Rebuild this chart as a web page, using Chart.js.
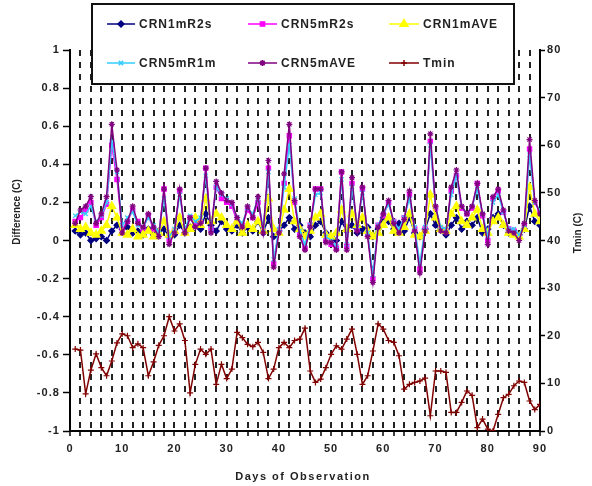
<!DOCTYPE html>
<html>
<head>
<meta charset="utf-8">
<script src="https://cdn.jsdelivr.net/npm/chart.js@4.4.1/dist/chart.umd.min.js"></script>
<style>
  html, body { margin: 0; padding: 0; background: #fff; }
  #wrap { width: 592px; height: 486px; }
</style>
</head>
<body>
<div id="wrap"><canvas id="grafica"></canvas></div>
<script>
const dias = [1,2,3,4,5,6,7,8,9,10,11,12,13,14,15,16,17,18,19,20,21,22,23,24,25,26,27,28,29,30,
  31,32,33,34,35,36,37,38,39,40,41,42,43,44,45,46,47,48,49,50,51,52,53,54,55,56,57,58,59,60,
  61,62,63,64,65,66,67,68,69,70,71,72,73,74,75,76,77,78,79,80,81,82,83,84,85,86,87,88,89,90];

const crn1mR2s = [0.05,0.03,0.04,0.00,0.01,0.02,0.00,0.05,0.08,0.06,0.07,0.04,0.05,0.03,0.06,0.03,0.05,0.06,0.02,0.03,
  0.08,0.04,0.07,0.10,0.06,0.14,0.08,0.05,0.10,0.06,0.05,0.08,0.04,0.07,0.05,0.10,0.04,0.12,0.02,0.05,
  0.08,0.12,0.06,0.08,0.04,0.02,0.08,0.10,0.04,0.02,0.00,0.10,0.05,0.08,0.04,0.06,0.07,0.02,0.06,0.12,
  0.10,0.06,0.09,0.05,0.12,0.04,0.02,0.06,0.14,0.08,0.06,0.03,0.08,0.12,0.06,0.10,0.08,0.12,0.04,0.06,
  0.12,0.14,0.08,0.04,0.05,0.03,0.06,0.18,0.10,0.08];

const crn5mR2s = [0.10,0.12,0.16,0.20,0.08,0.12,0.19,0.50,0.32,0.06,0.10,0.16,0.10,0.06,0.13,0.06,0.03,0.27,0.00,0.05,
  0.26,0.05,0.12,0.08,0.10,0.38,0.06,0.28,0.22,0.20,0.18,0.10,0.08,0.16,0.12,0.20,0.05,0.38,-0.12,0.05,
  0.30,0.55,0.20,0.03,-0.04,0.08,0.27,0.27,0.00,-0.02,-0.04,0.36,-0.03,0.30,0.06,0.27,0.03,-0.20,0.08,0.13,
  0.20,0.10,0.05,0.12,0.24,0.06,-0.15,0.06,0.52,0.17,0.06,0.05,0.26,0.34,0.17,0.14,0.17,0.30,0.13,0.00,
  0.22,0.26,0.15,0.06,0.05,0.02,0.08,0.48,0.20,0.15];

const crn1mAve = [0.08,0.06,0.07,0.04,0.03,0.05,0.08,0.18,0.12,0.04,0.03,0.06,0.02,0.03,0.05,0.02,0.04,0.10,0.03,0.05,
  0.12,0.04,0.06,0.12,0.08,0.22,0.10,0.14,0.12,0.08,0.06,0.10,0.04,0.08,0.06,0.10,0.05,0.22,0.06,0.04,
  0.16,0.27,0.10,0.06,0.02,0.05,0.12,0.14,0.03,0.02,0.04,0.16,0.06,0.14,0.08,0.12,0.05,0.02,0.04,0.08,
  0.12,0.05,0.04,0.07,0.14,0.03,0.02,0.05,0.24,0.12,0.06,0.05,0.14,0.18,0.10,0.08,0.12,0.16,0.06,0.04,
  0.10,0.12,0.08,0.04,0.03,0.02,0.06,0.28,0.14,0.10];

const crn5mR1m = [0.13,0.15,0.14,0.18,0.10,0.13,0.20,0.52,0.36,0.08,0.12,0.15,0.08,0.07,0.12,0.08,0.04,0.22,0.02,0.06,
  0.24,0.06,0.13,0.10,0.12,0.34,0.06,0.28,0.24,0.22,0.19,0.12,0.09,0.17,0.14,0.22,0.06,0.36,-0.10,0.06,
  0.28,0.50,0.22,0.05,-0.02,0.08,0.24,0.25,0.02,0.00,-0.03,0.32,-0.02,0.28,0.07,0.25,0.04,-0.18,0.08,0.14,
  0.19,0.10,0.06,0.12,0.22,0.07,-0.12,0.07,0.50,0.18,0.07,0.06,0.24,0.34,0.18,0.14,0.18,0.27,0.14,0.02,
  0.20,0.24,0.15,0.06,0.06,0.03,0.08,0.45,0.20,0.16];

const crn5mAve = [0.09,0.16,0.18,0.23,0.09,0.14,0.23,0.61,0.37,0.04,0.10,0.18,0.09,0.07,0.14,0.07,0.02,0.27,-0.02,0.04,
  0.27,0.04,0.12,0.07,0.09,0.38,0.04,0.31,0.25,0.21,0.20,0.12,0.07,0.18,0.12,0.23,0.04,0.42,-0.14,0.04,
  0.35,0.61,0.21,0.02,-0.05,0.07,0.27,0.27,-0.01,-0.01,-0.05,0.36,-0.05,0.33,0.05,0.28,0.02,-0.22,0.07,0.14,
  0.21,0.09,0.04,0.11,0.26,0.05,-0.17,0.05,0.56,0.18,0.05,0.04,0.28,0.37,0.18,0.14,0.18,0.30,0.14,-0.02,
  0.23,0.27,0.16,0.05,0.04,0.00,0.09,0.53,0.21,0.14];

const tmin = [17.2,17.0,7.8,12.8,16.2,13.3,11.6,14.7,18.5,20.4,20.0,17.5,18.3,17.5,11.6,14.5,18.0,20.0,24.0,21.0,
  22.5,19.0,8.0,14.0,17.2,16.1,17.2,9.8,14.0,11.0,13.0,20.7,19.6,18.2,17.7,18.6,16.5,11.0,13.0,17.5,
  18.6,17.5,19.0,19.3,21.6,12.6,10.2,10.9,13.3,16.1,17.9,17.2,19.3,21.4,16.1,9.8,11.6,16.8,22.5,21.4,
  19.0,18.6,15.8,8.8,9.8,10.2,10.5,11.1,3.2,12.6,12.6,12.3,3.9,3.9,6.0,8.4,7.5,0.7,2.5,0.4,
  0.0,3.5,7.0,7.7,9.5,10.5,10.2,6.3,4.5,5.6];

const ticksDias = [0,10,20,30,40,50,60,70,80,90];
const ticksDif = [-1,-0.8,-0.6,-0.4,-0.2,0,0.2,0.4,0.6,0.8,1];
const ticksTmin = [0,10,20,30,40,50,60,70,80];

const series = [
  { label: 'CRN1mR2s', valores: crn1mR2s, color: '#000080', punto: 'rectRot', radio: 3, eje: 'y' },
  { label: 'CRN5mR2s', valores: crn5mR2s, color: '#ff00ff', punto: 'rect', radio: 3, eje: 'y' },
  { label: 'CRN1mAVE', valores: crn1mAve, color: '#ffff00', punto: 'triangle', radio: 4.5, eje: 'y' },
  { label: 'CRN5mR1m', valores: crn5mR1m, color: '#33ccff', punto: 'crossRot', radio: 3, eje: 'y' },
  { label: 'CRN5mAVE', valores: crn5mAve, color: '#800080', punto: 'star', radio: 3, eje: 'y' },
  { label: 'Tmin', valores: tmin, color: '#800000', punto: 'cross', radio: 3, eje: 'y2' }
];

const fuenteTicks = { family: 'Arial, "Liberation Sans", sans-serif', size: 11, weight: 'bold' };

const leyendaCaja = {
  id: 'leyendaCaja',
  afterDraw(chart) {
    const ctx = chart.ctx;
    const inicioLinea = [107, 248, 389];
    const inicioTexto = [139, 281, 423];
    const filas = [24, 63];
    ctx.save();
    ctx.fillStyle = '#fff';
    ctx.fillRect(92, 4, 422, 80);
    ctx.strokeStyle = '#111';
    ctx.lineWidth = 2;
    ctx.strokeRect(92, 4, 422, 80);
    chart.data.datasets.forEach((ds, i) => {
      const col = i % 3, y = filas[Math.floor(i / 3)];
      const x = inicioLinea[col];
      ctx.strokeStyle = ds.borderColor;
      ctx.fillStyle = ds.pointBackgroundColor;
      ctx.lineWidth = 1.5;
      ctx.beginPath();
      ctx.moveTo(x, y);
      ctx.lineTo(inicioTexto[col] - 4, y);
      ctx.stroke();
      Chart.helpers.drawPoint(ctx, { pointStyle: ds.pointStyle, radius: ds.pointRadius, borderWidth: 1.2, rotation: 0 },
        (x + inicioTexto[col] - 4) / 2, y);
      ctx.fillStyle = '#222';
      ctx.font = 'bold 12px Arial, "Liberation Sans", sans-serif';
      ctx.letterSpacing = '1px';
      ctx.textBaseline = 'middle';
      ctx.textAlign = 'left';
      ctx.fillText(ds.label, inicioTexto[col], y + 1);
    });
    ctx.restore();
  }
};

const titulosEjes = {
  id: 'titulosEjes',
  beforeDraw(chart) {
    chart.ctx.letterSpacing = '1.1px';
  },
  afterDraw(chart) {
    const ctx = chart.ctx;
    ctx.save();
    ctx.fillStyle = '#222';
    ctx.textAlign = 'center';
    ctx.textBaseline = 'middle';
    ctx.font = 'bold 11px Arial, "Liberation Sans", sans-serif';
    ctx.letterSpacing = '1.5px';
    ctx.fillText('Days of Observation', 303, 477);
    ctx.letterSpacing = '0px';
    ctx.font = 'bold 10px Arial, "Liberation Sans", sans-serif';
    ctx.save();
    ctx.translate(17, 212);
    ctx.rotate(-Math.PI / 2);
    ctx.fillText('Difference (C)', 0, 0);
    ctx.restore();
    ctx.save();
    ctx.translate(578, 233);
    ctx.rotate(-Math.PI / 2);
    ctx.fillText('Tmin (C)', 0, 0);
    ctx.restore();
    ctx.restore();
  }
};

document.addEventListener('DOMContentLoaded', () => {
  const datasets = series.map((s, i) => ({
    label: s.label,
    data: dias.map((d, k) => ({ x: d, y: s.valores[k] })),
    yAxisID: s.eje,
    borderColor: s.color,
    backgroundColor: s.color,
    pointBackgroundColor: s.color,
    pointBorderColor: s.color,
    pointStyle: s.punto,
    pointRadius: s.radio,
    pointBorderWidth: 1.2,
    borderWidth: 1.5,
    tension: 0,
    fill: false,
    order: series.length - i
  }));

  new Chart(document.getElementById('grafica').getContext('2d'), {
    type: 'line',
    data: { datasets },
    options: {
      responsive: true,
      maintainAspectRatio: false,
      animation: false,
      devicePixelRatio: 1,
      layout: { padding: { top: 50, left: 0, right: 0, bottom: 0 } },
      plugins: { legend: { display: false }, tooltip: { enabled: false } },
      scales: {
        x: {
          type: 'linear', min: 0, max: 90,
          ticks: {
            stepSize: 2, autoSkip: false, maxRotation: 0, padding: 6,
            font: fuenteTicks, color: '#222',
            callback: v => ticksDias.includes(v) ? String(v) : ''
          },
          grid: { color: '#222', lineWidth: 2, tickColor: '#000', tickWidth: 1.5, tickLength: 5 },
          border: { color: '#000', width: 2, dash: [6, 6] },
          afterFit(s) { s.height = 55; }
        },
        y: {
          type: 'linear', position: 'left', min: -1, max: 1,
          afterBuildTicks(s) { s.ticks = ticksDif.map(v => ({ value: v })); },
          ticks: { font: fuenteTicks, color: '#222', padding: 3, callback: v => String(v) },
          grid: { drawOnChartArea: false, tickColor: '#000', tickWidth: 1.5, tickLength: 7 },
          border: { color: '#000', width: 2 },
          afterFit(s) { s.width = 70; }
        },
        y2: {
          type: 'linear', position: 'right', min: 0, max: 80,
          afterBuildTicks(s) { s.ticks = ticksTmin.map(v => ({ value: v })); },
          ticks: { font: fuenteTicks, color: '#222', padding: 2 },
          grid: { drawOnChartArea: false, tickColor: '#000', tickWidth: 1.5, tickLength: 5 },
          border: { color: '#000', width: 2 },
          afterFit(s) { s.width = 52; }
        }
      }
    },
    plugins: [titulosEjes, leyendaCaja]
  });
});
</script>
</body>
</html>
